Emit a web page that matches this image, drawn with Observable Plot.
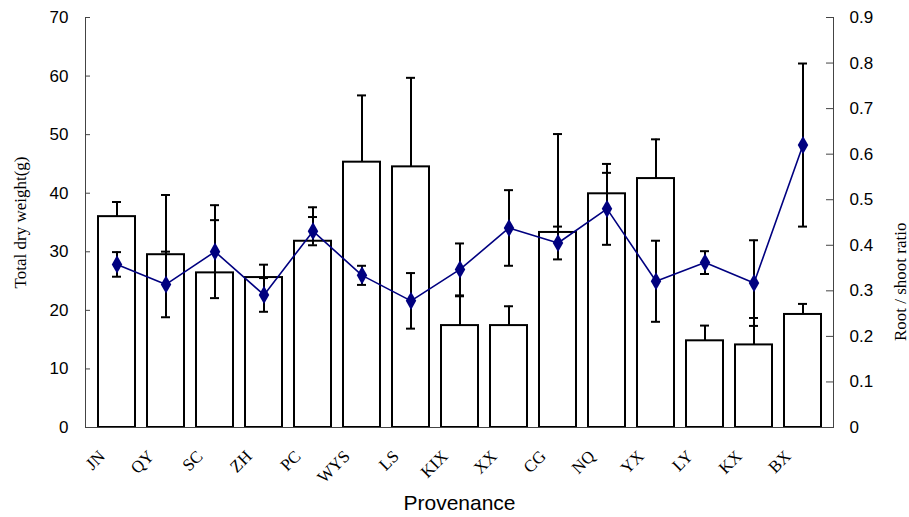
<!DOCTYPE html>
<html>
<head>
<meta charset="utf-8">
<script src="https://cdn.jsdelivr.net/npm/d3@7"></script>
<script src="https://cdn.jsdelivr.net/npm/@observablehq/plot@0.6"></script>
<style>
  html, body { margin: 0; padding: 0; background: #fff; }
  #chart svg { font-family: "Liberation Sans", Arial, sans-serif; }
  g[aria-label="y-axis label"] text { font-family: "Liberation Serif", "Times New Roman", serif; font-size: 17px; }
  g[aria-label="x-axis tick label"] text { font-family: "Liberation Serif", "Times New Roman", serif; font-size: 17px; }
  g[aria-label="x-axis label"] text { font-size: 21px; }
  g.right-title text { font-family: "Liberation Serif", "Times New Roman", serif; font-size: 17px; }
</style>
</head>
<body>
<div id="chart"></div>
<script>
const categories = ["JN","QY","SC","ZH","PC","WYS","LS","KIX","XX","CG","NQ","YX","LY","KX","BX"];
const dryWeight = [36.0, 29.5, 26.4, 25.6, 31.8, 45.3, 44.5, 17.4, 17.4, 33.3, 39.9, 42.5, 14.8, 14.1, 19.3];
const dryWeightErr = [2.5, 10.2, 9.0, 2.2, 5.8, 11.4, 15.2, 5.0, 3.3, 16.8, 5.1, 6.7, 2.6, 4.6, 1.8];
const ratio = [0.358, 0.314, 0.386, 0.291, 0.431, 0.334, 0.278, 0.347, 0.438, 0.405, 0.480, 0.321, 0.362, 0.317, 0.620];
const ratioErr = [0.027, 0.072, 0.102, 0.037, 0.031, 0.021, 0.061, 0.057, 0.083, 0.036, 0.079, 0.089, 0.025, 0.094, 0.179];
const leftTicks = [0, 10, 20, 30, 40, 50, 60, 70];
const rightTicks = [0, 0.1, 0.2, 0.3, 0.4, 0.5, 0.6, 0.7, 0.8, 0.9];
const rightTitle = ["Root / shoot ratio"];

const k = 70 / 0.9; // map ratio axis onto the weight axis
const rows = categories.map((c, i) => ({
  c, w: dryWeight[i], we: dryWeightErr[i], r: ratio[i], re: ratioErr[i]
}));

const chart = Plot.plot({
  width: 909,
  height: 517,
  marginLeft: 85,
  marginRight: 76,
  marginTop: 17,
  marginBottom: 90,
  style: { fontSize: "17px", fontFamily: "'Liberation Sans', Arial, sans-serif", color: "#000" },
  x: { domain: categories, paddingInner: 0.25, paddingOuter: 0.125 },
  y: { domain: [0, 70] },
  marks: [
    Plot.barY(rows, { x: "c", y: "w", fill: "white", stroke: "black", strokeWidth: 2 }),
    // bar error bars (upper only)
    Plot.ruleX(rows, { x: "c", y1: "w", y2: d => d.w + d.we, stroke: "black", strokeWidth: 2 }),
    Plot.tickY(rows, { x: "c", y: d => d.w + d.we, stroke: "black", strokeWidth: 2, inset: 14 }),
    // ratio error bars
    Plot.ruleX(rows, { x: "c", y1: d => (d.r - d.re) * k, y2: d => (d.r + d.re) * k, stroke: "black", strokeWidth: 2 }),
    Plot.tickY(rows, { x: "c", y: d => (d.r + d.re) * k, stroke: "black", strokeWidth: 2, inset: 14 }),
    Plot.tickY(rows, { x: "c", y: d => (d.r - d.re) * k, stroke: "black", strokeWidth: 2, inset: 14 }),
    // ratio line
    Plot.lineY(rows, { x: "c", y: d => d.r * k, stroke: "#000080", strokeWidth: 1.6 }),
    Plot.dot(rows, { x: "c", y: d => d.r * k, symbol: "diamond", r: 5.5, fill: "#000080", stroke: "none" }),
    // axes
    Plot.frame({ anchor: "left", stroke: "#444" }),
    Plot.frame({ anchor: "right", stroke: "#444" }),
    Plot.frame({ anchor: "bottom", stroke: "#444" }),
    Plot.axisY(leftTicks, {
      anchor: "left", tickSize: -5, tickPadding: 22, stroke: "#444",
      label: "Total dry weight(g)", labelAnchor: "center", labelArrow: "none", labelOffset: 72,
      tickFormat: d => String(d)
    }),
    Plot.axisY(rightTicks.map(v => v * k), {
      anchor: "right", tickSize: -8, tickPadding: 24, stroke: "#444",
      label: null,
      tickFormat: d => { const v = Math.round(d / k * 10) / 10; return v === 0 ? "0" : v.toFixed(1); }
    }),
    Plot.text(rightTitle, {
      frameAnchor: "right", rotate: -90, dx: 67, text: d => d, className: "right-title",
      fontFamily: "'Liberation Serif', 'Times New Roman', serif", fontSize: 17, fill: "#000"
    }),
    Plot.axisX({
      anchor: "bottom", tickSize: 0, tickPadding: 8, tickRotate: -45, dx: -15, dy: 18,
      label: null
    }),
    Plot.axisX({
      anchor: "bottom", tickSize: 0, ticks: [],
      label: "Provenance", labelAnchor: "center", labelArrow: "none", labelOffset: 82
    })
  ]
});
document.getElementById("chart").appendChild(chart);
</script>
</body>
</html>
